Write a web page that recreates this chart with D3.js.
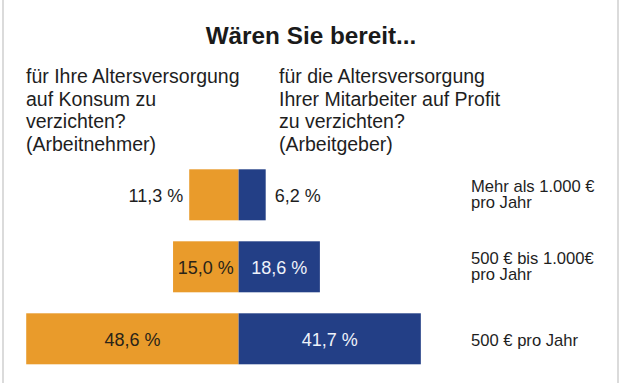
<!DOCTYPE html>
<html>
<head>
<meta charset="utf-8">
<script src="https://cdn.jsdelivr.net/npm/d3@7"></script>
<style>
  html, body { margin: 0; padding: 0; background: #fff; }
  svg { display: block; font-family: "Liberation Sans", Arial, Helvetica, sans-serif; }
</style>
</head>
<body>
<svg id="chart" width="621" height="383"></svg>
<script>
// ---- Data ----
const title = "Wären Sie bereit...";
const leftHeading = ["für Ihre Altersversorgung", "auf Konsum zu", "verzichten?", "(Arbeitnehmer)"];
const rightHeading = ["für die Altersversorgung", "Ihrer Mitarbeiter auf Profit", "zu verzichten?", "(Arbeitgeber)"];
const categories = ["Mehr als 1.000 € pro Jahr", "500 € bis 1.000€ pro Jahr", "500 € pro Jahr"];
const categoryLines = [["Mehr als 1.000 €", "pro Jahr"], ["500 € bis 1.000€", "pro Jahr"], ["500 € pro Jahr"]];
const arbeitnehmer = [11.3, 15.0, 48.6];
const arbeitgeber = [6.2, 18.6, 41.7];

// ---- Layout ----
const W = 621, H = 383;
const centerX = 238.6;
const pxPerPct = 4.37;
const colorOrange = "#E99B2B";
const colorBlue = "#233F86";

const svg = d3.select("#chart");

// frame lines
svg.append("line").attr("x1", 3).attr("x2", 3).attr("y1", 0).attr("y2", H)
  .attr("stroke", "#cfcfcf").attr("stroke-width", 1.5);
svg.append("line").attr("x1", 618).attr("x2", 618).attr("y1", 0).attr("y2", H)
  .attr("stroke", "#cfcfcf").attr("stroke-width", 1.5);

// title
svg.append("text").attr("x", 311).attr("y", 44)
  .attr("text-anchor", "middle").attr("font-weight", "bold")
  .attr("font-size", 24.3).attr("fill", "#1a1a1a").text(title);

// headings
function heading(lines, x) {
  const t = svg.append("text").attr("font-size", 19.5).attr("fill", "#1e1e1e");
  lines.forEach((l, i) => {
    t.append("tspan").attr("x", x).attr("y", 83 + i * 22.6).text(l);
  });
}
heading(leftHeading, 26);
heading(rightHeading, 279);

// scales
const y = d3.scaleBand().domain(categories).range([169.3, 364.3])
  .paddingInner(21 / 72).paddingOuter(0);
const xL = d3.scaleLinear().domain([0, 100]).range([centerX, centerX - 100 * pxPerPct]);
const xR = d3.scaleLinear().domain([0, 100]).range([centerX, centerX + 100 * pxPerPct]);

const locale = d3.formatLocale({ decimal: ",", thousands: ".", grouping: [3], currency: ["", " €"] });
const fmt = v => locale.format(".1f")(v) + " %";

const rows = categories.map((c, i) => ({ cat: c, lines: categoryLines[i], an: arbeitnehmer[i], ag: arbeitgeber[i] }));

const g = svg.append("g");

// bars
g.selectAll("rect.an").data(rows).join("rect").attr("class", "an")
  .attr("x", d => xL(d.an)).attr("y", d => y(d.cat))
  .attr("width", d => xL(0) - xL(d.an)).attr("height", y.bandwidth())
  .attr("fill", colorOrange);
g.selectAll("rect.ag").data(rows).join("rect").attr("class", "ag")
  .attr("x", xR(0)).attr("y", d => y(d.cat))
  .attr("width", d => xR(d.ag) - xR(0)).attr("height", y.bandwidth())
  .attr("fill", colorBlue);

// value labels
const labelSize = 18;
rows.forEach(d => {
  const mid = y(d.cat) + y.bandwidth() / 2 + 7.2;
  // orange
  const tl = g.append("text").attr("font-size", labelSize).attr("y", mid).text(fmt(d.an));
  const wl = tl.node().getComputedTextLength();
  const barWL = xL(0) - xL(d.an);
  if (wl + 8 < barWL) {
    tl.attr("x", (xL(0) + xL(d.an)) / 2).attr("text-anchor", "middle").attr("fill", "#2a2418");
  } else {
    tl.attr("x", xL(d.an) - 6).attr("text-anchor", "end").attr("fill", "#1e1e1e");
  }
  // blue
  const tr = g.append("text").attr("font-size", labelSize).attr("y", mid).text(fmt(d.ag));
  const wr = tr.node().getComputedTextLength();
  const barWR = xR(d.ag) - xR(0);
  if (wr + 8 < barWR) {
    tr.attr("x", (xR(0) + xR(d.ag)) / 2).attr("text-anchor", "middle").attr("fill", "#eef2fa");
  } else {
    tr.attr("x", xR(d.ag) + 9).attr("text-anchor", "start").attr("fill", "#1e1e1e");
  }
});

// category labels (right side)
rows.forEach(d => {
  const mid = y(d.cat) + y.bandwidth() / 2;
  const t = g.append("text").attr("font-size", 16.6).attr("fill", "#1e1e1e");
  const n = d.lines.length;
  d.lines.forEach((l, i) => {
    const base = n === 1 ? mid + 7.5 : mid - 3 + i * 16;
    t.append("tspan").attr("x", 471).attr("y", base).text(l);
  });
});
</script>
</body>
</html>
